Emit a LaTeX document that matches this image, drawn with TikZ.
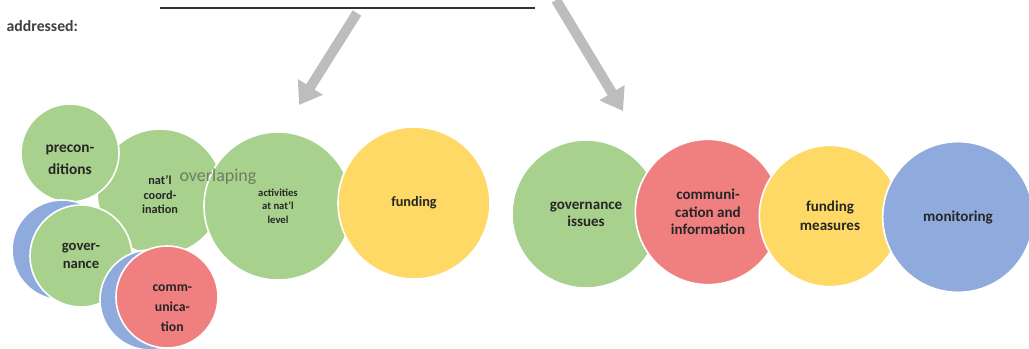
\documentclass[tikz,border=0pt]{standalone}
\usepackage{fontspec}
\setmainfont{Carlito}
\usepackage{xcolor}
\usetikzlibrary{arrows.meta}
\definecolor{bubgreen}{HTML}{A9D18E}
\definecolor{bubred}{HTML}{F07F80}
\definecolor{bubyellow}{HTML}{FFD966}
\definecolor{bubblue}{HTML}{8FAADC}
\definecolor{arrowgray}{HTML}{BDBDBD}
\tikzset{
    bubble/.style={circle, draw=white, line width=1.2pt, fill=#1, align=center,
        inner sep=0pt, text=black!85},
    bigarrow/.style={draw=arrowgray, line width=7.5pt,
        -{Triangle[length=16pt,width=21pt]}}
}
\newcommand{\bubfont}[2]{\fontsize{#1}{#2}\selectfont\bfseries}

\begin{document}
\begin{tikzpicture}[x=0.75pt,y=-0.75pt]
    \useasboundingbox (0,0) rectangle (1029,349);
    \fill[white] (0,0) rectangle (1029,349);
    \draw[black!80, line width=1pt] (160,8) -- (535,8);
    \node [anchor=west, font=\bubfont{11.8}{13}, text=black!75] (addr) at (2,26) {addressed:};
    \coordinate (lstart) at (357,13);
    \coordinate (lend) at (299,105);
    \coordinate (rstart) at (556,0);
    \coordinate (rend) at (623,111);
    \draw [bigarrow] (lstart) -- (lend);
    \draw [bigarrow] (rstart) -- (rend);
    \node [bubble=bubgreen, minimum size=94.5pt, font=\bubfont{9.2}{11}] (natl) at (160,192) {\\nat'l\\coord-\\ination};
    \node [bubble=bubgreen, minimum size=73.5pt, font=\bubfont{11.5}{16}] (precond) at (70,153) {\\precon-\\ditions};
    \node [bubble=bubgreen, minimum size=111pt, font=\bubfont{8}{10}] (activ) at (278,206) {activities\\at nat'l\\level};
    \node [bubble=bubyellow, minimum size=114pt, font=\bubfont{10.7}{12}] (fund) at (414,203) {funding};
    \node [bubble=bubblue, minimum size=75pt] (gblue) at (62,250) {};
    \node [bubble=bubgreen, minimum size=76.5pt, font=\bubfont{11}{13.5}] (gov) at (81,256) {gover-\\nance};
    \node [bubble=bubblue, minimum size=75pt] (cblue) at (150,300) {};
    \node [bubble=bubred, minimum size=76.5pt, font=\bubfont{10.3}{15}] (comm) at (167,297) {\\[7pt]\hspace*{8pt}comm-\\\hspace*{8pt}unica-\\\hspace*{8pt}tion};
    \node [font=\fontsize{13.5}{14}\selectfont, text=black!40!bubgreen!70!gray] (overlap) at (218,177) {overlaping};
    \node [bubble=bubgreen, minimum size=111pt, font=\bubfont{11.3}{12.75}] (govis) at (586,214) {governance\\issues};
    \node [bubble=bubred, minimum size=109pt, font=\bubfont{11.3}{13}] (comminf) at (708,212) {communi-\\cation and\\information};
    \node [bubble=bubyellow, minimum size=106pt, font=\bubfont{11.3}{14}] (fundmeas) at (830,216) {funding\\measures};
    \node [bubble=bubblue, minimum size=113pt, font=\bubfont{11.3}{13}] (monit) at (958,217) {monitoring};
\end{tikzpicture}
\end{document}
